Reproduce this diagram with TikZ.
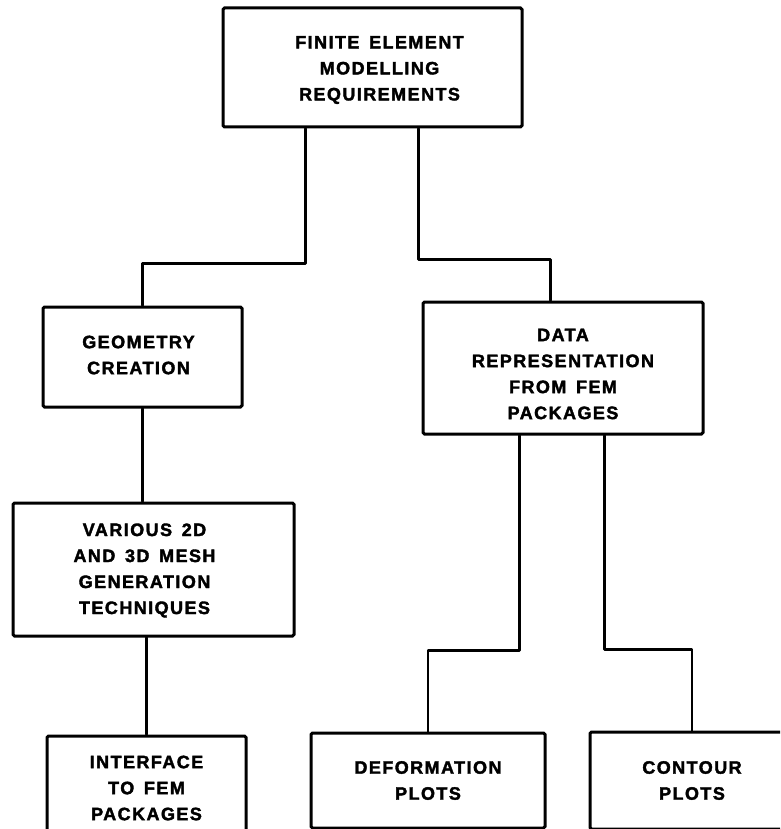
\documentclass[tikz,border=0pt]{standalone}
\usepackage{fontspec}
\setmainfont{Liberation Sans}[LetterSpace=8,WordSpace=1.5,BoldFeatures={FakeBold=2}]
\usetikzlibrary{calc}
\begin{document}
\begin{tikzpicture}[x=1pt,y=-1pt,
  blk/.style={draw, line width=3pt, rounded corners=1.5pt, inner sep=0pt},
  lbl/.style={inner sep=0pt, align=center, font=\fontsize{18}{26}\selectfont\bfseries},
  conn/.style={line width=2.8pt, line cap=round, line join=round}]
\useasboundingbox (0,0) rectangle (780,829);
\clip (0,0) rectangle (780,829);
% boxes
\node[blk, minimum width=299pt, minimum height=119pt] (top) at (372.5,67.5) {};
\node[blk, minimum width=199pt, minimum height=100pt] (geo) at (142.5,357) {};
\node[blk, minimum width=280pt, minimum height=132pt] (data) at (563,368) {};
\node[blk, minimum width=281pt, minimum height=133pt] (mesh) at (153.5,569.5) {};
\node[blk, minimum width=199pt, minimum height=104pt] (iface) at (146.5,788) {};
\node[blk, minimum width=234pt, minimum height=95pt] (deform) at (428,780.5) {};
\node[blk, minimum width=204pt, minimum height=97pt] (contour) at (692,780.5) {};
% texts
\node[lbl] (toptxt) at ($(top.center)+(7,2.5)$) {FINITE ELEMENT\\MODELLING\\REQUIREMENTS};
\node[lbl] (geotxt) at ($(geo.center)+(-4,-2)$) {GEOMETRY\\CREATION};
\node[lbl] (datatxt) at ($(data.center)+(0,6)$) {DATA\\REPRESENTATION\\FROM FEM\\PACKAGES};
\node[lbl] (meshtxt) at ($(mesh.center)+(-9,1)$) {VARIOUS 2D\\AND 3D MESH\\GENERATION\\TECHNIQUES};
\node[lbl] (ifacetxt) at ($(iface.center)+(0,0)$) {INTERFACE\\TO FEM\\PACKAGES};
\node[lbl] (deformtxt) at ($(deform.center)+(0,0)$) {DEFORMATION\\PLOTS};
\node[lbl] (contourtxt) at ($(contour.center)+(0,0)$) {CONTOUR\\PLOTS};
% connectors
\draw[conn] ($(top.south west)+(84,0)$) -- ++(0,135) -| (geo.north);
\draw[conn] ($(top.south west)+(197,0)$) -- ++(0,131) -| ($(data.north west)+(129,0)$);
\draw[conn] (geo.south) -- (geo.south |- mesh.north);
\draw[conn] (iface.north |- mesh.south) -- (iface.north);
\draw[conn] ($(data.south west)+(98,0)$) -- ++(0,215) -| (deform.north);
\draw[conn] ($(data.south west)+(183,0)$) -- ++(0,214) -| (contour.north);
\end{tikzpicture}
\end{document}
